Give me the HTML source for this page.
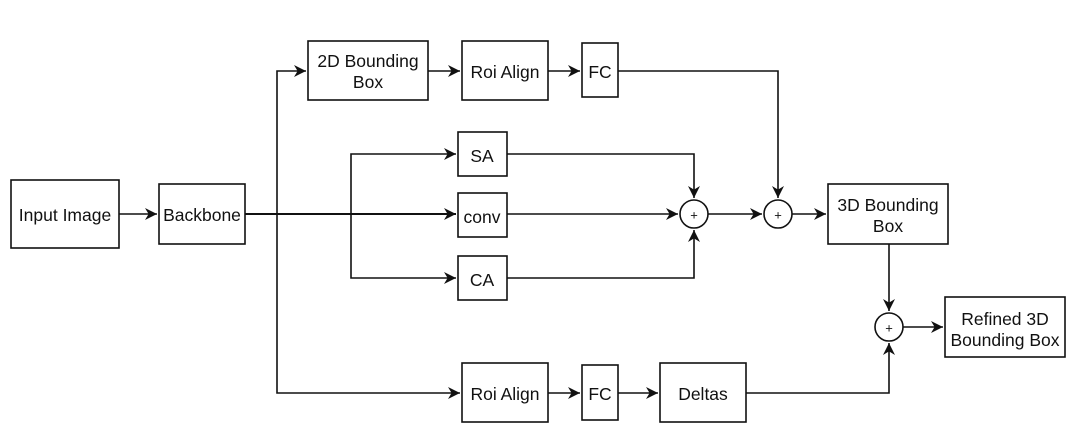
<!DOCTYPE html>
<html><head><meta charset="utf-8"><style>
html,body{margin:0;padding:0;background:#fff;}
svg{display:block;}
text{font-family:"Liberation Sans",sans-serif;font-size:17.5px;fill:#111;text-anchor:middle;dominant-baseline:central;}
</style></head><body>
<svg width="1080" height="442" viewBox="0 0 1080 442">
<defs><marker id="a" viewBox="0 0 10 10" refX="10" refY="5" markerWidth="12" markerHeight="12" markerUnits="userSpaceOnUse" orient="auto"><path d="M0,0 L10,5 L0,10 L3,5 Z" fill="#111"/></marker></defs>
<g fill="none" stroke="#111" stroke-width="1.6">
<rect x="11" y="180" width="108" height="68"/>
<rect x="159" y="184" width="86" height="60"/>
<rect x="308" y="41" width="120" height="59"/>
<rect x="462" y="41" width="86" height="59"/>
<rect x="582" y="43" width="36" height="54"/>
<rect x="458" y="132" width="49" height="44"/>
<rect x="458" y="193" width="49" height="44"/>
<rect x="458" y="256" width="49" height="44"/>
<rect x="828" y="184" width="120" height="60"/>
<rect x="945" y="297" width="120" height="60"/>
<rect x="462" y="363" width="86" height="59"/>
<rect x="582" y="365" width="36" height="55"/>
<rect x="660" y="363" width="86" height="59"/>
<circle cx="694" cy="214" r="14"/>
<circle cx="778" cy="214" r="14"/>
<circle cx="889" cy="327" r="14"/>
<path d="M119 214 H157" marker-end="url(#a)"/>
<path d="M245 214 H456" marker-end="url(#a)" stroke-width="2"/>
<path d="M277 214 V71 H306" marker-end="url(#a)"/>
<path d="M277 214 V393 H460" marker-end="url(#a)"/>
<path d="M351 214 V154 H456" marker-end="url(#a)"/>
<path d="M351 214 V278 H456" marker-end="url(#a)"/>
<path d="M428 71 H460" marker-end="url(#a)"/>
<path d="M548 71 H580" marker-end="url(#a)"/>
<path d="M618 71 H778 V198" marker-end="url(#a)"/>
<path d="M507 154 H694 V198" marker-end="url(#a)"/>
<path d="M507 278 H694 V230" marker-end="url(#a)"/>
<path d="M507 214 H678" marker-end="url(#a)"/>
<path d="M708 214 H762" marker-end="url(#a)"/>
<path d="M792 214 H826" marker-end="url(#a)"/>
<path d="M889 244 V311" marker-end="url(#a)"/>
<path d="M903 327 H943" marker-end="url(#a)"/>
<path d="M548 393 H580" marker-end="url(#a)"/>
<path d="M618 393 H658" marker-end="url(#a)"/>
<path d="M746 393 H889 V343" marker-end="url(#a)"/>
</g>
<text x="65" y="215">Input Image</text>
<text x="202" y="215">Backbone</text>
<text x="368" y="61">2D Bounding</text>
<text x="368" y="82">Box</text>
<text x="505" y="72">Roi Align</text>
<text x="600" y="72">FC</text>
<text x="482" y="156">SA</text>
<text x="482" y="217">conv</text>
<text x="482" y="280">CA</text>
<text x="694" y="215" style="font-size:13px">+</text>
<text x="778" y="215" style="font-size:13px">+</text>
<text x="889" y="328" style="font-size:13px">+</text>
<text x="888" y="205">3D Bounding</text>
<text x="888" y="226">Box</text>
<text x="1005" y="319">Refined 3D</text>
<text x="1005" y="340">Bounding Box</text>
<text x="505" y="394">Roi Align</text>
<text x="600" y="394">FC</text>
<text x="703" y="394">Deltas</text>
</svg>
</body></html>
